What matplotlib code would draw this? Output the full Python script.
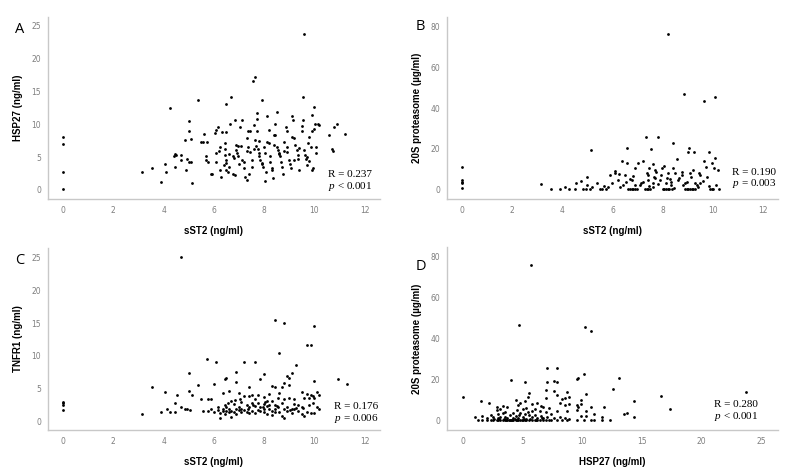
import matplotlib.pyplot as plt

plt.rcParams['mathtext.fontset'] = 'custom'
plt.rcParams['mathtext.rm'] = 'Liberation Serif'
plt.rcParams['mathtext.it'] = 'Liberation Serif:italic'

# Panel A: sST2 vs HSP27 (ng/ml)
a_x = [0, 0, 0, 0, 3.15, 3.54, 3.9, 4.07, 4.1, 4.24, 4.4, 4.45, 4.5, 4.7, 4.7, 4.47,
       4.87, 4.9, 5.0, 5.0, 4.93, 5.0, 5.1, 5.1, 5.15, 5.37, 5.5, 5.55, 5.6, 5.68, 5.7,
       5.75, 5.73, 5.9, 5.93, 6.03, 6.07, 6.15, 6.07, 6.1, 6.23, 6.3, 6.23, 6.34, 6.5,
       6.5, 6.68, 6.45, 6.45, 6.45, 6.5, 6.48, 6.5, 6.58, 6.6, 6.63, 6.76, 6.83, 6.9,
       6.92, 6.95, 6.88, 6.97, 6.76, 6.83, 7.03, 7.14, 7.1, 7.14, 7.2, 7.23, 7.3, 7.37,
       7.43, 7.37, 7.43, 7.3, 7.4, 7.5, 7.53, 7.56, 7.64, 7.6, 7.64, 7.67, 7.7, 7.72,
       7.7, 7.76, 7.78, 7.8, 7.85, 7.9, 7.96, 7.9, 8.0, 8.05, 8.06, 8.03, 8.1, 8.2, 8.2,
       8.22, 8.25, 8.3, 8.32, 8.35, 8.4, 8.44, 8.43, 8.5, 8.5, 8.55, 8.6, 8.63, 8.66,
       8.7, 8.75, 8.78, 8.86, 8.9, 8.9, 8.93, 9.0, 9.03, 9.08, 9.1, 9.14, 9.2, 9.22,
       9.3, 9.33, 9.36, 9.4, 9.5, 9.52, 9.55, 9.54, 9.6, 9.6, 9.63, 9.66, 9.7, 9.75,
       9.8, 9.85, 9.9, 9.9, 9.9, 9.93, 10.0, 10.02, 10.06, 10.06, 10.15, 10.2, 10.6,
       10.7, 10.75, 10.8, 10.9, 11.2, 6.2, 6.4, 6.8, 7.0, 7.3, 7.6, 7.9, 8.1, 8.4, 8.8,
       9.2, 9.4, 9.7, 10.0, 6.6, 7.2, 7.8, 8.6, 9.1, 9.8]
a_y = [8.1, 6.95, 2.8, 0.1, 2.8, 3.3, 1.2, 4.0, 2.8, 12.4, 5.2, 5.5, 5.3, 5.3, 4.6, 3.5,
       7.6, 3.0, 10.5, 9.0, 4.7, 4.2, 4.2, 7.7, 1.1, 13.7, 7.35, 7.3, 8.5, 5.1, 4.6,
       4.3, 7.35, 2.5, 2.4, 8.6, 9.1, 9.6, 5.6, 4.3, 3.0, 2.0, 6.6, 8.8, 8.8, 13.1, 14.2,
       7.2, 6.3, 5.3, 4.6, 4.1, 3.0, 2.8, 3.5, 10.0, 5.1, 10.6, 6.1, 5.6, 5.1, 6.85,
       6.7, 2.5, 2.3, 9.6, 10.6, 6.7, 4.6, 3.3, 2.0, 7.9, 8.9, 8.9, 6.6, 5.8, 1.5, 2.5,
       4.6, 3.5, 16.6, 17.2, 9.9, 7.6, 6.7, 10.75, 11.7, 8.9, 6.2, 5.6, 5.1, 4.6, 4.1,
       3.5, 13.7, 6.6, 5.6, 2.8, 1.3, 11.2, 9.1, 7.1, 5.1, 4.3, 3.3, 3.0, 1.8, 8.4, 8.3,
       10.1, 11.9, 6.6, 6.1, 5.6, 5.1, 4.2, 3.5, 2.5, 7.35, 9.6, 8.9, 6.6, 5.8, 4.6,
       4.0, 3.3, 11.2, 10.6, 7.9, 6.85, 6.1, 5.3, 4.7, 3.0, 8.9, 9.7, 10.6, 14.2, 23.7,
       6.1, 5.3, 4.7, 3.8, 7.1, 8.1, 6.6, 11.4, 8.9, 3.0, 3.3, 12.6, 10.1, 6.6, 5.6,
       10.1, 9.9, 8.4, 6.2, 6.0, 9.6, 10.1, 8.5, 5.9, 3.8, 4.9, 4.0, 5.9, 6.3, 3.9, 7.3,
       6.9, 5.9, 4.5, 6.4, 5.0, 9.3, 5.5, 4.2, 7.5, 5.4, 8.0, 4.4]

# Panel B: sST2 vs 20S proteasome (ug/ml)
b_x = [0, 0, 0, 0, 0, 3.16, 3.56, 3.92, 4.12, 4.27, 4.5, 4.55, 4.73, 4.83, 4.96, 5.1,
       5.0, 5.0, 5.16, 5.2, 5.4, 5.5, 5.6, 5.75, 5.67, 5.83, 5.9, 6.0, 6.1, 6.12, 6.22,
       6.25, 6.36, 6.43, 6.5, 6.52, 6.56, 6.59, 6.6, 6.68, 6.76, 6.83, 6.9, 6.97, 6.76,
       6.83, 6.9, 7.03, 7.1, 7.13, 7.2, 7.23, 7.3, 7.36, 7.43, 7.5, 7.32, 7.36, 7.4,
       7.42, 7.46, 7.53, 7.6, 7.62, 7.65, 7.63, 7.7, 7.74, 7.83, 7.9, 7.93, 7.96, 8.0,
       8.07, 8.13, 8.2, 8.27, 8.36, 8.07, 8.15, 8.18, 8.2, 8.23, 8.33, 8.35, 8.4, 8.43,
       8.5, 8.56, 8.6, 8.64, 8.76, 8.78, 8.84, 8.9, 8.97, 9.03, 9.1, 9.17, 9.23, 9.3,
       8.9, 8.96, 9.03, 9.05, 9.1, 9.14, 9.2, 9.27, 9.3, 9.35, 9.45, 9.48, 9.5, 9.63,
       9.66, 9.72, 9.76, 9.83, 9.9, 9.96, 10.0, 9.96, 10.03, 10.07, 10.1, 10.13, 10.2,
       10.23, 6.3, 6.9, 7.45, 7.8, 8.45, 8.8, 9.4, 9.85, 6.7, 7.7, 8.3, 9.6]
b_y = [11.4, 4.9, 4.1, 3.6, 1.1, 2.8, 0.3, 0.3, 1.3, 0.3, 0.3, 3.2, 4.4, 0.3, 0.3, 0.3,
       6.5, 2.4, 19.5, 1.6, 3.6, 0.3, 0.3, 0.3, 2.0, 1.6, 7.3, 3.6, 8.5, 9.3, 4.9,
       7.6, 14.1, 2.4, 7.3, 4.1, 20.6, 13.0, 0.3, 0.3, 0.3, 0.3, 0.3, 0.3, 4.9, 6.8,
       10.6, 13.3, 2.4, 3.6, 4.1, 14.3, 0.3, 0.3, 0.3, 0.3, 25.7, 8.5, 7.3, 4.9, 10.6,
       20.0, 1.6, 3.6, 6.5, 12.5, 9.8, 8.9, 25.7, 4.9, 7.3, 10.6, 0.3, 0.3, 0.3, 0.3,
       0.3, 0.3, 11.7, 3.2, 5.7, 8.1, 76.1, 4.1, 2.4, 22.8, 10.6, 8.1, 15.3, 4.9, 5.7,
       7.3, 8.9, 46.7, 0.3, 0.3, 0.3, 0.3, 0.3, 0.3, 0.3, 3.2, 4.1, 18.7, 20.6, 8.1,
       6.5, 9.8, 18.7, 3.6, 2.4, 8.1, 7.3, 3.6, 14.1, 43.6, 11.4, 6.5, 18.7, 0.5, 13.0,
       0.3, 0.3, 10.6, 15.4, 45.5, 2.4, 9.8, 0.3, 1.5, 2.2, 1.8, 2.8, 1.2, 2.6, 1.4,
       1.9, 5.5, 6.0, 5.2, 4.4]

# Panel C: sST2 vs TNFR1 (ng/ml)
c_x = [0, 0, 0, 0, 3.16, 3.54, 3.9, 4.07, 4.14, 4.24, 4.44, 4.44, 4.53, 4.71, 4.71,
       4.85, 4.93, 5.0, 5.0, 5.07, 5.15, 5.37, 5.5, 5.55, 5.72, 5.78, 5.78, 5.9, 5.9,
       6.0, 6.0, 6.1, 6.15, 6.15, 6.25, 6.25, 6.35, 6.35, 6.35, 6.45, 6.45, 6.45, 6.5,
       6.5, 6.5, 6.6, 6.6, 6.6, 6.7, 6.7, 6.7, 6.8, 6.8, 6.9, 6.9, 6.9, 6.9, 7.0, 7.0,
       7.0, 7.1, 7.1, 7.1, 7.2, 7.2, 7.2, 7.3, 7.3, 7.4, 7.4, 7.4, 7.4, 7.5, 7.5, 7.5,
       7.65, 7.65, 7.65, 7.65, 7.75, 7.75, 7.75, 7.85, 7.85, 7.85, 8.0, 8.0, 8.0, 8.0,
       8.0, 8.1, 8.1, 8.1, 8.2, 8.2, 8.2, 8.3, 8.3, 8.3, 8.3, 8.45, 8.45, 8.45, 8.45,
       8.45, 8.55, 8.55, 8.6, 8.6, 8.6, 8.7, 8.7, 8.7, 8.8, 8.8, 8.8, 8.8, 8.8, 8.9,
       8.9, 8.9, 9.0, 9.0, 9.0, 9.1, 9.1, 9.1, 9.2, 9.2, 9.2, 9.25, 9.25, 9.35, 9.35,
       9.5, 9.5, 9.5, 9.6, 9.6, 9.7, 9.7, 9.7, 9.8, 9.8, 9.85, 9.85, 9.85, 9.95, 9.95,
       10.0, 10.0, 10.0, 10.0, 10.1, 10.1, 10.2, 10.2, 10.95, 11.3, 6.55, 7.05, 7.55,
       8.05, 8.5, 9.05, 9.55, 6.85, 7.35, 7.95]
c_y = [3.0, 2.8, 2.6, 1.8, 1.1, 5.3, 1.4, 4.5, 1.9, 1.5, 2.8, 1.4, 4.1, 25.0, 2.2,
       2.0, 1.9, 7.4, 4.6, 1.8, 4.0, 5.6, 3.5, 1.6, 9.5, 3.5, 1.6, 3.4, 1.9, 1.5, 5.7,
       9.1, 1.8, 2.2, 0.6, 1.3, 1.6, 2.0, 4.3, 6.5, 2.5, 1.2, 6.6, 1.7, 2.3, 4.7, 1.4,
       2.0, 1.7, 0.7, 3.1, 2.7, 1.5, 7.5, 6.0, 2.0, 1.2, 4.4, 2.3, 1.8, 3.0, 2.0, 1.4,
       9.1, 1.8, 3.9, 2.5, 1.5, 5.3, 3.9, 2.2, 1.3, 4.0, 2.9, 1.7, 9.0, 3.5, 2.4, 1.3,
       2.8, 1.8, 4.0, 6.5, 2.2, 1.6, 7.2, 3.7, 2.7, 1.9, 1.4, 2.4, 3.1, 1.1, 4.2, 1.9,
       2.6, 5.4, 3.2, 1.7, 1.0, 15.5, 5.2, 2.6, 2.0, 1.5, 3.6, 2.2, 10.5, 4.3, 1.4, 5.2,
       2.8, 0.9, 15.0, 5.9, 3.4, 1.9, 0.6, 6.9, 2.3, 1.6, 6.7, 5.6, 3.6, 7.4, 2.0, 1.3,
       3.5, 2.7, 1.9, 8.6, 2.1, 2.5, 1.6, 4.5, 2.2, 1.1, 3.6, 0.8, 11.7, 4.2, 1.5, 3.6,
       2.6, 11.7, 4.1, 1.3, 3.9, 2.9, 14.6, 6.2, 3.6, 1.3, 4.5, 2.2, 4.0, 1.9, 6.5, 5.8,
       2.9, 3.4, 2.6, 3.0, 2.4, 1.8, 2.1, 3.3, 1.9, 2.3]

# Panel D: HSP27 vs 20S proteasome (ug/ml)
d_x = [0.0, 1.0, 1.2, 1.5, 1.6, 1.6, 2.0, 2.0, 2.2, 2.3, 2.3, 2.5, 2.5, 2.8, 2.8, 2.8,
       2.9, 2.9, 2.9, 3.1, 3.1, 3.1, 3.3, 3.3, 3.3, 3.5, 3.5, 3.5, 3.7, 3.7, 3.7, 3.9,
       3.9, 4.0, 4.0, 4.2, 4.2, 4.2, 4.4, 4.4, 4.4, 4.5, 4.5, 4.6, 4.6, 4.6, 4.7, 4.7,
       4.8, 4.8, 4.8, 5.0, 5.0, 5.0, 5.2, 5.2, 5.2, 5.2, 5.3, 5.3, 5.3, 5.4, 5.4, 5.5,
       5.5, 5.5, 5.7, 5.8, 5.8, 5.8, 5.8, 6.0, 6.0, 6.0, 6.2, 6.2, 6.2, 6.4, 6.4, 6.5,
       6.5, 6.7, 6.7, 6.7, 6.9, 6.9, 6.9, 6.9, 7.0, 7.0, 7.0, 7.2, 7.2, 7.4, 7.4, 7.6,
       7.6, 7.6, 7.9, 7.9, 7.9, 7.9, 7.9, 8.1, 8.1, 8.3, 8.3, 8.5, 8.5, 8.5, 8.7, 8.7,
       8.7, 8.9, 8.9, 8.9, 9.5, 9.5, 9.5, 9.5, 9.6, 9.6, 9.9, 9.9, 9.9, 10.1, 10.2,
       10.1, 10.3, 10.3, 10.3, 10.7, 10.7, 10.7, 11.0, 11.0, 11.6, 11.6, 11.8, 12.3,
       12.6, 13.1, 13.5, 13.7, 14.3, 14.3, 16.6, 17.3, 23.7, 3.0, 3.4, 3.8, 4.3, 4.9,
       5.6, 6.1, 6.6, 2.6, 3.6, 4.1, 5.1]
d_y = [11.4, 2.0, 0.3, 9.6, 0.5, 2.4, 0.3, 1.6, 8.5, 3.0, 0.3, 2.0, 0.4, 0.3, 5.5,
       7.0, 1.5, 0.3, 3.3, 0.3, 5.8, 2.0, 7.2, 0.3, 3.7, 0.3, 2.0, 4.2, 0.3, 6.6, 1.3,
       0.3, 3.1, 20.0, 0.3, 4.0, 1.2, 0.3, 10.2, 2.2, 0.3, 5.5, 0.3, 7.5, 1.5, 0.3,
       46.8, 3.0, 0.3, 8.6, 4.0, 0.3, 5.8, 2.0, 19.0, 9.5, 0.3, 3.6, 6.2, 1.0, 0.3,
       11.4, 4.4, 13.5, 0.3, 2.8, 76.0, 8.3, 0.3, 4.8, 2.0, 6.0, 0.3, 3.1, 8.5, 0.3,
       1.4, 5.0, 0.3, 7.3, 2.5, 0.3, 6.6, 1.2, 15.2, 11.0, 0.3, 4.2, 25.6, 19.0, 2.0,
       6.4, 0.3, 3.5, 0.3, 19.5, 14.5, 1.6, 25.6, 18.8, 12.6, 5.0, 0.3, 8.5, 2.0, 10.5,
       0.3, 7.6, 1.5, 11.0, 14.0, 0.3, 4.8, 11.5, 8.2, 1.0, 20.5, 7.5, 5.5, 0.3, 20.7,
       6.6, 10.2, 8.0, 2.2, 22.7, 45.5, 0.3, 13.2, 5.0, 2.5, 43.6, 6.6, 0.3, 3.4, 0.3,
       0.3, 2.0, 6.9, 0.3, 15.5, 20.9, 3.5, 3.9, 9.7, 1.9, 12.0, 5.8, 14.0, 1.0, 0.8,
       0.5, 1.1, 0.6, 0.9, 0.4, 1.3, 1.0, 0.6, 0.5, 0.7]

panels = [
    ("A", a_x, a_y, "sST2 (ng/ml)", "HSP27 (ng/ml)", "R = 0.237", "<", "0.001"),
    ("B", b_x, b_y, "sST2 (ng/ml)", "20S proteasome (µg/ml)", "R = 0.190", "=", "0.003"),
    ("C", c_x, c_y, "sST2 (ng/ml)", "TNFR1 (ng/ml)", "R = 0.176", "=", "0.006"),
    ("D", d_x, d_y, "HSP27 (ng/ml)", "20S proteasome (µg/ml)", "R = 0.280", "<", "0.001"),
]

# axes rectangles [left, bottom, width, height], limits, ticks, text spots
rects = [[0.0607, 0.5757, 0.4193, 0.388], [0.565, 0.5757, 0.4186, 0.388],
         [0.0607, 0.0832, 0.4193, 0.388], [0.565, 0.0832, 0.4186, 0.390]]
xlims = [(-0.6, 12.6), (-0.6, 12.6), (-0.6, 12.6), (-1.37, 26.4)]
ylims = [(-1.37, 26.3), (-4.4, 84.4), (-1.26, 26.4), (-4.4, 84.5)]
xticks = [range(0, 13, 2), range(0, 13, 2), range(0, 13, 2), range(0, 26, 5)]
yticks = [range(0, 26, 5), range(0, 81, 20), range(0, 26, 5), range(0, 81, 20)]
txt_pos = [(0.843, 0.135, 0.068), (0.861, 0.146, 0.085),
           (0.861, 0.129, 0.063), (0.807, 0.140, 0.074)]
letter_pos = [(0.019, 0.93), (0.525, 0.937), (0.019, 0.438), (0.525, 0.424)]

fig = plt.figure(figsize=(7.91, 4.69), dpi=100)
for i, (let, xs, ys, xl, yl, rtxt, op, pval) in enumerate(panels):
    ax = fig.add_axes(rects[i])
    ax.scatter(xs, ys, s=4, c='black', linewidths=0)
    ax.set_xlim(*xlims[i])
    ax.set_ylim(*ylims[i])
    ax.set_xticks(list(xticks[i]))
    ax.set_yticks(list(yticks[i]))
    for s in ['top', 'right']:
        ax.spines[s].set_visible(False)
    for s in ['left', 'bottom']:
        ax.spines[s].set_color('#c8c8c8')
        ax.spines[s].set_linewidth(1.0)
    ax.tick_params(length=0, labelsize=5.5, labelcolor='#7f7f7f', pad=5)
    ax.set_xlabel(xl, fontsize=7, fontweight='bold', family='Liberation Sans', labelpad=8)
    ax.set_ylabel(yl, fontsize=7, fontweight='bold', family='Liberation Sans', labelpad=6)
    tx, ry, py = txt_pos[i]
    ax.text(tx, ry, rtxt, transform=ax.transAxes, fontsize=8,
            family='Liberation Serif', va='center')
    ax.text(tx, py, r"$\mathit{p}$ " + op + " " + pval, transform=ax.transAxes,
            fontsize=8, family='Liberation Serif', va='center')
    fig.text(letter_pos[i][0], letter_pos[i][1], let, fontsize=10.5, family='Open Sans')

fig.savefig("out.png", dpi=100)
